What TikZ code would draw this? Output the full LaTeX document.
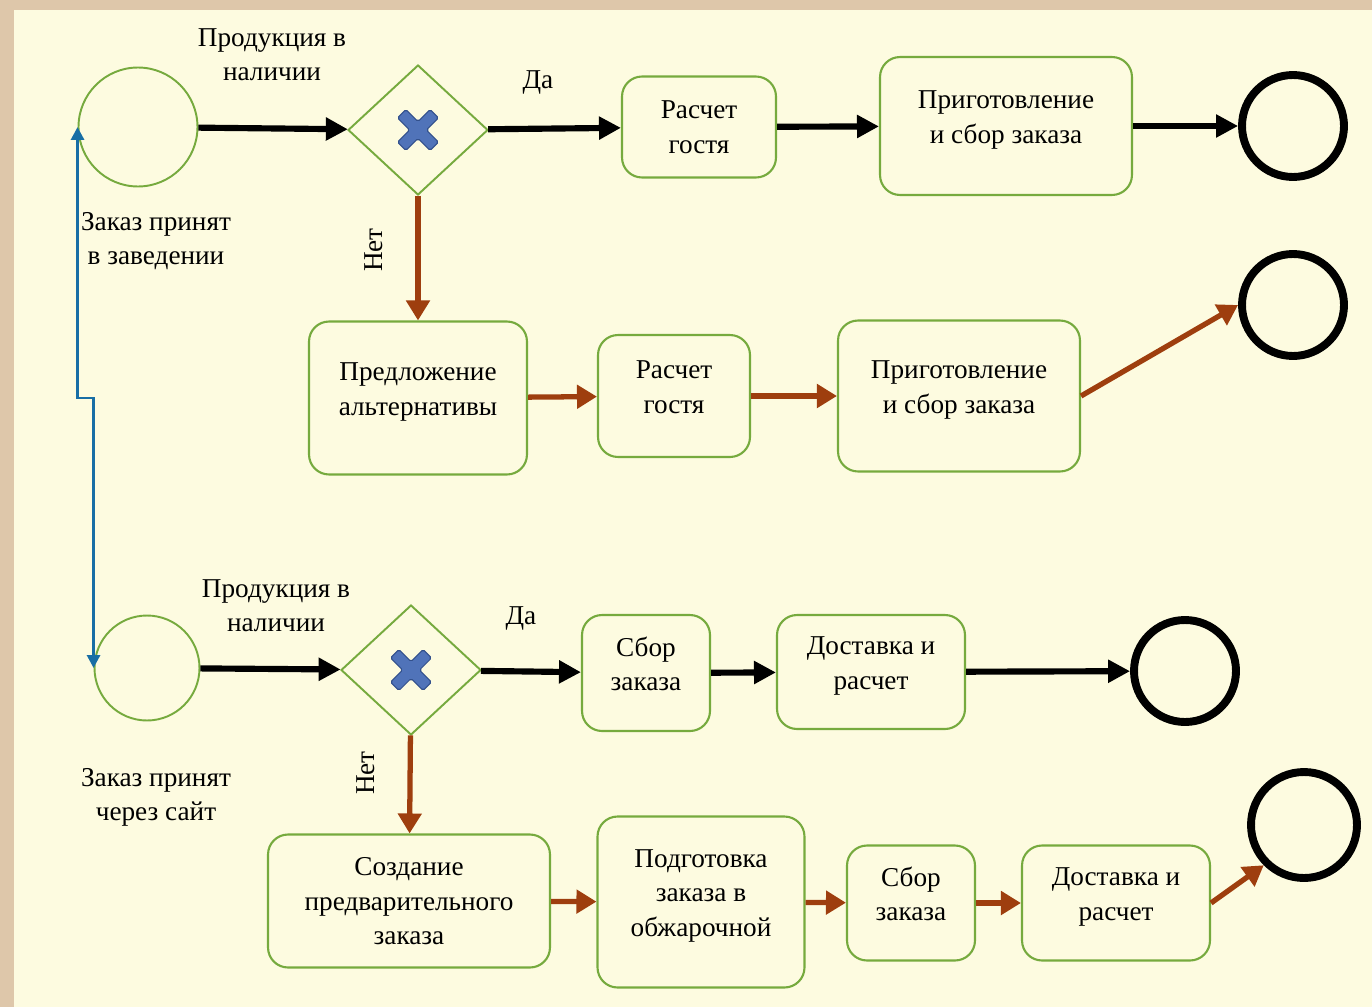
\documentclass[tikz,border=0pt]{standalone}
\usepackage{fontspec}
\setmainfont{Liberation Serif}
\usetikzlibrary{arrows.meta,shapes.geometric}
\definecolor{cream}{RGB}{253,251,224}
\definecolor{parch}{RGB}{222,199,170}
\definecolor{taskgreen}{RGB}{118,170,62}
\definecolor{flowbrown}{RGB}{158,62,14}
\definecolor{linkblue}{RGB}{24,110,165}
\definecolor{crossblue}{RGB}{80,115,185}
\definecolor{crossedge}{RGB}{50,80,140}
\tikzset{
every node/.style={font=\fontsize{15.5}{19.5}\selectfont, align=center, inner sep=2pt},
task/.style 2 args={rectangle, rounded corners=0.4cm, draw=taskgreen, line width=1.2pt, fill=cream, text depth=0.36cm, minimum width=#1, minimum height=#2},
startev/.style={circle, draw=taskgreen, line width=1.1pt, inner sep=0pt, minimum size=#1},
endev/.style={circle, draw=black, line width=4.5pt, inner sep=0pt, minimum size=#1},
gate/.style={diamond, draw=taskgreen, line width=1.1pt, fill=cream, inner sep=0pt, minimum width=2.8cm, minimum height=2.6cm},
flowblack/.style={-{Triangle[length=0.44cm,width=0.44cm]}, draw=black, line width=3.5pt},
flowred/.style={-{Triangle[length=0.4cm,width=0.46cm]}, draw=flowbrown, line width=3pt},
link/.style={{Triangle[length=0.26cm,width=0.26cm]}-{Triangle[length=0.26cm,width=0.26cm]}, draw=linkblue, line width=1.7pt},
gatex/.pic={\filldraw[fill=crossblue, draw=crossedge, line width=0.6pt, rotate=45, rounded corners=1pt] (6,23) -- (6,6) -- (23,6) -- (23,-6) -- (6,-6) -- (6,-23) -- (-6,-23) -- (-6,-6) -- (-23,-6) -- (-23,6) -- (-6,6) -- (-6,23) -- cycle;}
}

\begin{document}
\begin{tikzpicture}[x=0.02cm, y=-0.02cm]
\useasboundingbox (0,0) rectangle (1372,1007);
\fill[parch] (0,0) rectangle (1372,1007);
\fill[cream] (14,10) rectangle (1372,1007);

% in the venue
\node[startev=2.38cm] (start1) at (138,127) {};
\node[gate] (gate1) at (418,130) {};
\pic at (gate1) {gatex};
\node[task={3.08cm}{2.02cm}, text depth=0cm] (guest1) at (699,127) {Расчет\\гостя};
\node[task={5.04cm}{2.76cm}] (cook1) at (1006,126) {Приготовление\\и сбор заказа};
\node[endev=2.04cm] (end1) at (1293,126) {};

\node[task={4.36cm}{3.06cm}] (alt) at (418,398) {Предложение\\альтернативы};
\node[task={3.04cm}{2.44cm}] (guest2) at (674,396) {Расчет\\гостя};
\node[task={4.84cm}{3.02cm}] (cook2) at (959,396) {Приготовление\\и сбор заказа};
\node[endev=2.04cm] (end2) at (1293,305) {};

\node (avail1) at (272,55) {Продукция в\\наличии};
\node (yes1) at (538,82) {Да};
\node[rotate=90] (no1) at (374,250) {Нет};
\node (venue) at (156,241) {Заказ принят\\в заведении};

% via the website
\node[startev=2.1cm] (start2) at (147,668) {};
\node[gate] (gate2) at (411,670) {};
\pic at (gate2) {gatex};
\node[task={2.56cm}{2.32cm}] (pick1) at (646,673) {Сбор\\заказа};
\node[task={3.76cm}{2.28cm}] (deliv1) at (871,672) {Доставка и\\расчет};
\node[endev=2.04cm] (end3) at (1185,671) {};

\node[task={5.64cm}{2.66cm}, text depth=0cm] (preorder) at (409,901) {Создание\\предварительного\\заказа};
\node[task={4.14cm}{3.42cm}] (roast) at (701,902) {Подготовка\\заказа в\\обжарочной};
\node[task={2.56cm}{2.30cm}] (pick2) at (911,903) {Сбор\\заказа};
\node[task={3.76cm}{2.30cm}] (deliv2) at (1116,903) {Доставка и\\расчет};
\node[endev=2.12cm] (end4) at (1304,825) {};

\node (avail2) at (276,606) {Продукция в\\наличии};
\node (yes2) at (521,618) {Да};
\node[rotate=90] (no2) at (366,773) {Нет};
\node (site) at (156,797) {Заказ принят\\через сайт};

\draw[flowblack] (start1) -- (gate1);
\draw[flowblack] (gate1) -- (guest1);
\draw[flowblack] (guest1) -- (cook1);
\draw[flowblack, line width=3pt] (cook1) -- (end1);
\draw[flowred] (gate1) -- (alt);
\draw[flowred] (alt) -- (guest2);
\draw[flowred] (guest2) -- (cook2);
\draw[flowred] (cook2.east) -- (end2.west);

\draw[flowblack] (start2) -- (gate2);
\draw[flowblack] (gate2) -- (pick1);
\draw[flowblack] (pick1) -- (deliv1);
\draw[flowblack] (deliv1) -- (end3);
\draw[flowred] (gate2) -- (preorder);
\draw[flowred] (preorder) -- (roast);
\draw[flowred] (roast) -- (pick2);
\draw[flowred] (pick2) -- (deliv2);
\draw[flowred] (deliv2.east) -- (end4.south west);

\draw[link] (start1.west) -- ++(0,271) -| (start2.west);
\end{tikzpicture}
\end{document}
